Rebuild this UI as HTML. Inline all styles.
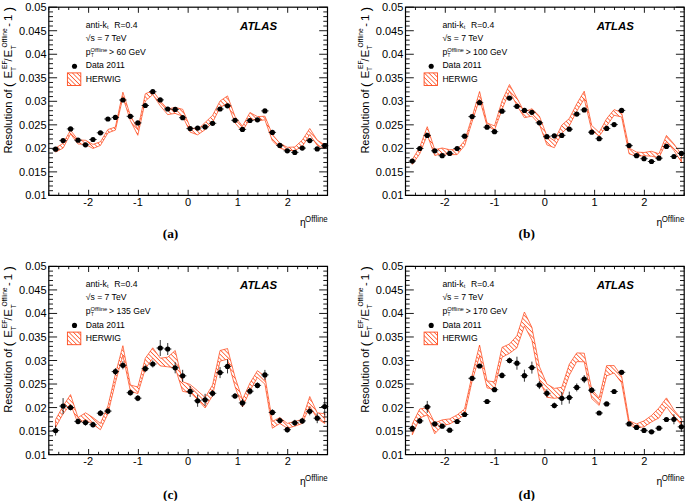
<!DOCTYPE html>
<html><head><meta charset="utf-8"><title>ATLAS resolution</title>
<style>html,body{margin:0;padding:0;background:#fff;}body{width:685px;height:501px;overflow:hidden;}svg{display:block;}text{font-family:"Liberation Sans",sans-serif;fill:#000;}.cap{font-family:"Liberation Serif",serif;font-weight:bold;font-size:13.4px;}.tl{font-size:11px;}.lg{font-size:8.65px;}.yt{font-size:11px;}.ss{font-size:6.7px;}</style>
</head><body>
<svg width="685" height="501" viewBox="0 0 685 501">
<defs>
<pattern id="h" patternUnits="userSpaceOnUse" width="3.15" height="3.15" patternTransform="rotate(45)"><rect x="0" y="0" width="3.15" height="0.72" fill="#ff4a1c"/></pattern>
</defs>
<rect x="0" y="0" width="685" height="501" fill="#fff"/>
<g>
<polygon points="55.6,148.1 63.08,143.3 70.55,130.3 78.03,139.9 85.5,140.3 92.97,144.4 100.45,141.8 107.92,129.5 115.4,127.1 122.88,92.2 130.35,115.4 137.82,129.3 145.3,93.8 152.78,90.6 160.25,101 167.72,109 175.2,107.4 182.67,109.3 190.15,127.3 197.62,129.7 205.1,122.5 212.57,115.4 220.05,101 227.52,95.9 235,116.5 242.47,126.2 249.95,112.5 257.43,116.6 264.9,116.2 272.38,134.5 279.85,143.3 287.32,147.3 294.8,147 302.27,140.1 309.75,128.5 317.23,140.1 324.7,144.9 324.7,148.6 317.23,145.4 309.75,134.5 302.27,146.5 294.8,150.5 287.32,150.5 279.85,148.1 272.38,140.9 264.9,119.8 257.43,120.9 249.95,118.2 242.47,131.3 235,122.9 227.52,103.4 220.05,107.4 212.57,122.5 205.1,129.7 197.62,134.8 190.15,132.1 182.67,116.2 175.2,113.4 167.72,114.6 160.25,105.8 152.78,94.6 145.3,101 137.82,135.3 130.35,120.5 122.88,97.3 115.4,130.1 107.92,132.9 100.45,145.4 92.97,148.5 85.5,144.3 78.03,144 70.55,133.9 63.08,148.1 55.6,152.1" fill="url(#h)" stroke="#ff4a1c" stroke-width="0.75" stroke-linejoin="miter"/>
<path d="M51.9 149.2H59.3M59.38 140.6H66.78M66.85 128.9H74.25M74.33 140.2H81.73M81.8 144.8H89.2M89.27 139.5H96.67M96.75 132.8H104.15M104.22 119H111.62M111.7 117.4H119.1M119.17 100H126.58M126.65 116.3H134.05M134.12 122.9H141.52M141.6 105.5H149M149.08 91.7H156.47M156.55 99.9H163.95M164.03 109H171.42M171.5 109.4H178.9M178.97 117.7H186.37M186.45 128.6H193.85M193.93 128.1H201.32M201.4 126.9H208.8M208.88 123.3H216.27M216.35 109H223.75M223.82 105.8H231.22M231.3 120.3H238.7M238.78 129.4H246.17M246.25 120.5H253.65M253.73 119.8H261.12M261.2 110.9H268.6M268.68 132.4H276.07M276.15 145.4H283.55M283.62 150.8H291.02M291.1 152.4H298.5M298.57 148.1H305.97M306.05 140.6H313.45M313.53 148.9H320.93M321 145.7H328.4" stroke="#000" stroke-width="0.8" fill="none"/>
<circle cx="55.6" cy="149.2" r="2.6" fill="#000"/>
<circle cx="63.08" cy="140.6" r="2.6" fill="#000"/>
<circle cx="70.55" cy="128.9" r="2.6" fill="#000"/>
<circle cx="78.03" cy="140.2" r="2.6" fill="#000"/>
<circle cx="85.5" cy="144.8" r="2.6" fill="#000"/>
<circle cx="92.97" cy="139.5" r="2.6" fill="#000"/>
<circle cx="100.45" cy="132.8" r="2.6" fill="#000"/>
<circle cx="107.92" cy="119" r="2.6" fill="#000"/>
<circle cx="115.4" cy="117.4" r="2.6" fill="#000"/>
<circle cx="122.88" cy="100" r="2.6" fill="#000"/>
<circle cx="130.35" cy="116.3" r="2.6" fill="#000"/>
<circle cx="137.82" cy="122.9" r="2.6" fill="#000"/>
<circle cx="145.3" cy="105.5" r="2.6" fill="#000"/>
<circle cx="152.78" cy="91.7" r="2.6" fill="#000"/>
<circle cx="160.25" cy="99.9" r="2.6" fill="#000"/>
<circle cx="167.72" cy="109" r="2.6" fill="#000"/>
<circle cx="175.2" cy="109.4" r="2.6" fill="#000"/>
<circle cx="182.67" cy="117.7" r="2.6" fill="#000"/>
<circle cx="190.15" cy="128.6" r="2.6" fill="#000"/>
<circle cx="197.62" cy="128.1" r="2.6" fill="#000"/>
<circle cx="205.1" cy="126.9" r="2.6" fill="#000"/>
<circle cx="212.57" cy="123.3" r="2.6" fill="#000"/>
<circle cx="220.05" cy="109" r="2.6" fill="#000"/>
<circle cx="227.52" cy="105.8" r="2.6" fill="#000"/>
<circle cx="235" cy="120.3" r="2.6" fill="#000"/>
<circle cx="242.47" cy="129.4" r="2.6" fill="#000"/>
<circle cx="249.95" cy="120.5" r="2.6" fill="#000"/>
<circle cx="257.43" cy="119.8" r="2.6" fill="#000"/>
<circle cx="264.9" cy="110.9" r="2.6" fill="#000"/>
<circle cx="272.38" cy="132.4" r="2.6" fill="#000"/>
<circle cx="279.85" cy="145.4" r="2.6" fill="#000"/>
<circle cx="287.32" cy="150.8" r="2.6" fill="#000"/>
<circle cx="294.8" cy="152.4" r="2.6" fill="#000"/>
<circle cx="302.27" cy="148.1" r="2.6" fill="#000"/>
<circle cx="309.75" cy="140.6" r="2.6" fill="#000"/>
<circle cx="317.23" cy="148.9" r="2.6" fill="#000"/>
<circle cx="324.7" cy="145.7" r="2.6" fill="#000"/>
<rect x="48.8" y="7.2" width="278.7" height="188.2" fill="none" stroke="#000" stroke-width="1.2"/>
<path d="M48.8 195.4h8.3M327.5 195.4h-8.3M48.8 190.69h4.2M327.5 190.69h-4.2M48.8 185.99h4.2M327.5 185.99h-4.2M48.8 181.28h4.2M327.5 181.28h-4.2M48.8 176.58h4.2M327.5 176.58h-4.2M48.8 171.88h8.3M327.5 171.88h-8.3M48.8 167.17h4.2M327.5 167.17h-4.2M48.8 162.47h4.2M327.5 162.47h-4.2M48.8 157.76h4.2M327.5 157.76h-4.2M48.8 153.06h4.2M327.5 153.06h-4.2M48.8 148.35h8.3M327.5 148.35h-8.3M48.8 143.65h4.2M327.5 143.65h-4.2M48.8 138.94h4.2M327.5 138.94h-4.2M48.8 134.24h4.2M327.5 134.24h-4.2M48.8 129.53h4.2M327.5 129.53h-4.2M48.8 124.83h8.3M327.5 124.83h-8.3M48.8 120.12h4.2M327.5 120.12h-4.2M48.8 115.42h4.2M327.5 115.42h-4.2M48.8 110.71h4.2M327.5 110.71h-4.2M48.8 106.01h4.2M327.5 106.01h-4.2M48.8 101.3h8.3M327.5 101.3h-8.3M48.8 96.59h4.2M327.5 96.59h-4.2M48.8 91.89h4.2M327.5 91.89h-4.2M48.8 87.19h4.2M327.5 87.19h-4.2M48.8 82.48h4.2M327.5 82.48h-4.2M48.8 77.78h8.3M327.5 77.78h-8.3M48.8 73.07h4.2M327.5 73.07h-4.2M48.8 68.37h4.2M327.5 68.37h-4.2M48.8 63.66h4.2M327.5 63.66h-4.2M48.8 58.96h4.2M327.5 58.96h-4.2M48.8 54.25h8.3M327.5 54.25h-8.3M48.8 49.55h4.2M327.5 49.55h-4.2M48.8 44.84h4.2M327.5 44.84h-4.2M48.8 40.13h4.2M327.5 40.13h-4.2M48.8 35.43h4.2M327.5 35.43h-4.2M48.8 30.72h8.3M327.5 30.72h-8.3M48.8 26.02h4.2M327.5 26.02h-4.2M48.8 21.31h4.2M327.5 21.31h-4.2M48.8 16.61h4.2M327.5 16.61h-4.2M48.8 11.91h4.2M327.5 11.91h-4.2M48.8 7.2h8.3M327.5 7.2h-8.3M48.8 195.4v-2.8M48.8 7.2v2.8M58.75 195.4v-2.8M58.75 7.2v2.8M68.71 195.4v-2.8M68.71 7.2v2.8M78.66 195.4v-2.8M78.66 7.2v2.8M88.61 195.4v-5.6M88.61 7.2v5.6M98.57 195.4v-2.8M98.57 7.2v2.8M108.52 195.4v-2.8M108.52 7.2v2.8M118.47 195.4v-2.8M118.47 7.2v2.8M128.43 195.4v-2.8M128.43 7.2v2.8M138.38 195.4v-5.6M138.38 7.2v5.6M148.34 195.4v-2.8M148.34 7.2v2.8M158.29 195.4v-2.8M158.29 7.2v2.8M168.24 195.4v-2.8M168.24 7.2v2.8M178.2 195.4v-2.8M178.2 7.2v2.8M188.15 195.4v-5.6M188.15 7.2v5.6M198.1 195.4v-2.8M198.1 7.2v2.8M208.06 195.4v-2.8M208.06 7.2v2.8M218.01 195.4v-2.8M218.01 7.2v2.8M227.96 195.4v-2.8M227.96 7.2v2.8M237.92 195.4v-5.6M237.92 7.2v5.6M247.87 195.4v-2.8M247.87 7.2v2.8M257.83 195.4v-2.8M257.83 7.2v2.8M267.78 195.4v-2.8M267.78 7.2v2.8M277.73 195.4v-2.8M277.73 7.2v2.8M287.69 195.4v-5.6M287.69 7.2v5.6M297.64 195.4v-2.8M297.64 7.2v2.8M307.59 195.4v-2.8M307.59 7.2v2.8M317.55 195.4v-2.8M317.55 7.2v2.8M327.5 195.4v-2.8M327.5 7.2v2.8" stroke="#000" stroke-width="0.9" fill="none"/>
<text class="tl" x="46.6" y="199.4" text-anchor="end">0.01</text>
<text class="tl" x="46.6" y="175.88" text-anchor="end">0.015</text>
<text class="tl" x="46.6" y="152.35" text-anchor="end">0.02</text>
<text class="tl" x="46.6" y="128.82" text-anchor="end">0.025</text>
<text class="tl" x="46.6" y="105.3" text-anchor="end">0.03</text>
<text class="tl" x="46.6" y="81.78" text-anchor="end">0.035</text>
<text class="tl" x="46.6" y="58.25" text-anchor="end">0.04</text>
<text class="tl" x="46.6" y="34.72" text-anchor="end">0.045</text>
<text class="tl" x="46.6" y="11.2" text-anchor="end">0.05</text>
<text class="tl" x="88.11" y="206.1" text-anchor="middle">-2</text>
<text class="tl" x="137.88" y="206.1" text-anchor="middle">-1</text>
<text class="tl" x="188.15" y="206.1" text-anchor="middle">0</text>
<text class="tl" x="237.92" y="206.1" text-anchor="middle">1</text>
<text class="tl" x="287.69" y="206.1" text-anchor="middle">2</text>
<text x="0" y="0" style="font-size:11.2px" transform="translate(299.9 226.1) scale(0.92 1)">η</text>
<text x="0" y="0" style="font-size:9.4px" transform="translate(305 221.9) scale(0.84 1)">Offline</text>
<g transform="translate(12.2 153.6) rotate(-90)">
<text class="yt" x="0" y="0">Resolution of</text>
<text x="66.6" y="0.8" style="font-size:13px">(</text>
<text class="yt" x="75.0" y="0" style="font-size:11.5px">E</text>
<text class="ss" x="82.6" y="3.4">T</text>
<text class="ss" x="84.6" y="-5.7">EF</text>
<text class="yt" x="92.2" y="0">/</text>
<text class="yt" x="96.0" y="0" style="font-size:11.5px">E</text>
<text class="ss" x="104.2" y="3.4">T</text>
<text class="ss" x="106.2" y="-5.7">Offline</text>
<text class="yt" x="126.9" y="0">-</text>
<text class="yt" x="132.6" y="0" style="font-size:11.5px">1</text>
<text x="142.4" y="0.8" style="font-size:13px">)</text>
</g>
<text class="lg" x="85.7" y="27.7">anti-k</text>
<text x="107.1" y="29.2" style="font-size:5.5px">t</text>
<text class="lg" x="114.3" y="27.7">R=0.4</text>
<text class="lg" x="85.7" y="41">√s = 7 TeV</text>
<text class="lg" x="85.7" y="54.6">p</text>
<text x="90.9" y="57.2" style="font-size:4.6px">T</text>
<text x="90.5" y="51.6" style="font-size:5.8px">Offline</text>
<text class="lg" x="109" y="54.6">&gt; 60 GeV</text>
<circle cx="74.5" cy="66.2" r="2.55" fill="#000"/>
<text class="lg" x="85.7" y="68.3">Data 2011</text>
<rect x="67.4" y="72.9" width="13.4" height="12.6" fill="url(#h)" stroke="#ff4a1c" stroke-width="0.9"/>
<text class="lg" x="85.7" y="81.8">HERWIG</text>
<text x="240" y="30" style="font-size:11.4px;font-weight:bold;font-style:italic">ATLAS</text>
<text class="cap" x="170.5" y="238.2" text-anchor="middle">(a)</text>
</g>
<g>
<polygon points="412.3,159.5 419.78,147.2 427.25,126.7 434.73,149.7 442.2,148 449.68,149.7 457.15,149.7 464.62,140.7 472.1,116.9 479.57,91.5 487.05,123 494.52,125.9 502,101 509.48,84.5 516.95,98.1 524.42,112 531.9,108.7 539.38,116.1 546.85,135.8 554.33,140.7 561.8,125.1 569.27,118.6 576.75,103.8 584.23,91.2 591.7,125.5 599.17,132.5 606.65,118.6 614.12,109.6 621.6,112.5 629.08,148 636.55,152.1 644.02,152.5 651.5,151.3 658.98,153.8 666.45,135.4 673.92,143.9 681.4,154.6 681.4,161.9 673.92,150.5 666.45,141.5 658.98,157.9 651.5,156.2 644.02,155.7 636.55,156.2 629.08,153.8 621.6,116.9 614.12,115.3 606.65,125.9 599.17,136.1 591.7,130.4 584.23,98.9 576.75,111.2 569.27,125.9 561.8,133.3 554.33,147.7 546.85,144.8 539.38,124.3 531.9,116.1 524.42,117.7 516.95,105.5 509.48,91.2 502,109.6 494.52,130 487.05,125.9 479.57,98.9 472.1,121.8 464.62,145.6 457.15,154.6 449.68,154.6 442.2,153.8 434.73,155.4 427.25,134.9 419.78,153.8 412.3,164.4" fill="url(#h)" stroke="#ff4a1c" stroke-width="0.75" stroke-linejoin="miter"/>
<path d="M408.6 161.1H416M416.08 148.5H423.48M423.55 135.4H430.95M431.03 150.8H438.43M438.5 155.7H445.9M445.98 153.4H453.38M453.45 148.5H460.85M460.93 136.2H468.32M468.4 116.6H475.8M475.88 102.7H483.27M483.35 127.2H490.75M490.82 131.7H498.22M498.3 111.2H505.7M505.78 98.1H513.18M513.25 106.3H520.65M520.72 110.4H528.12M528.2 112.3H535.6M535.67 122.8H543.08M543.15 136.7H550.55M550.62 135.8H558.03M558.1 135.4H565.5M565.57 129.2H572.98M573.05 114.1H580.45M580.52 109.9H587.93M588 132.2H595.4M595.47 138.7H602.88M602.95 128.4H610.35M610.42 124.6H617.83M617.9 110.4H625.3M625.38 145.6H632.78M632.85 155.7H640.25M640.32 158.7H647.73M647.8 161.5H655.2M655.27 158.2H662.68M662.75 146.4H670.15M670.22 156.5H677.62M677.7 153.4H685.1" stroke="#000" stroke-width="0.8" fill="none"/>
<circle cx="412.3" cy="161.1" r="2.6" fill="#000"/>
<circle cx="419.78" cy="148.5" r="2.6" fill="#000"/>
<circle cx="427.25" cy="135.4" r="2.6" fill="#000"/>
<circle cx="434.73" cy="150.8" r="2.6" fill="#000"/>
<circle cx="442.2" cy="155.7" r="2.6" fill="#000"/>
<circle cx="449.68" cy="153.4" r="2.6" fill="#000"/>
<circle cx="457.15" cy="148.5" r="2.6" fill="#000"/>
<circle cx="464.62" cy="136.2" r="2.6" fill="#000"/>
<circle cx="472.1" cy="116.6" r="2.6" fill="#000"/>
<circle cx="479.57" cy="102.7" r="2.6" fill="#000"/>
<circle cx="487.05" cy="127.2" r="2.6" fill="#000"/>
<circle cx="494.52" cy="131.7" r="2.6" fill="#000"/>
<circle cx="502" cy="111.2" r="2.6" fill="#000"/>
<circle cx="509.48" cy="98.1" r="2.6" fill="#000"/>
<circle cx="516.95" cy="106.3" r="2.6" fill="#000"/>
<circle cx="524.42" cy="110.4" r="2.6" fill="#000"/>
<circle cx="531.9" cy="112.3" r="2.6" fill="#000"/>
<circle cx="539.38" cy="122.8" r="2.6" fill="#000"/>
<circle cx="546.85" cy="136.7" r="2.6" fill="#000"/>
<circle cx="554.33" cy="135.8" r="2.6" fill="#000"/>
<circle cx="561.8" cy="135.4" r="2.6" fill="#000"/>
<circle cx="569.27" cy="129.2" r="2.6" fill="#000"/>
<circle cx="576.75" cy="114.1" r="2.6" fill="#000"/>
<circle cx="584.23" cy="109.9" r="2.6" fill="#000"/>
<circle cx="591.7" cy="132.2" r="2.6" fill="#000"/>
<circle cx="599.17" cy="138.7" r="2.6" fill="#000"/>
<circle cx="606.65" cy="128.4" r="2.6" fill="#000"/>
<circle cx="614.12" cy="124.6" r="2.6" fill="#000"/>
<circle cx="621.6" cy="110.4" r="2.6" fill="#000"/>
<circle cx="629.08" cy="145.6" r="2.6" fill="#000"/>
<circle cx="636.55" cy="155.7" r="2.6" fill="#000"/>
<circle cx="644.02" cy="158.7" r="2.6" fill="#000"/>
<circle cx="651.5" cy="161.5" r="2.6" fill="#000"/>
<circle cx="658.98" cy="158.2" r="2.6" fill="#000"/>
<circle cx="666.45" cy="146.4" r="2.6" fill="#000"/>
<circle cx="673.92" cy="156.5" r="2.6" fill="#000"/>
<circle cx="681.4" cy="153.4" r="2.6" fill="#000"/>
<rect x="405.5" y="7.2" width="278.7" height="188.2" fill="none" stroke="#000" stroke-width="1.2"/>
<path d="M405.5 195.4h8.3M684.2 195.4h-8.3M405.5 190.69h4.2M684.2 190.69h-4.2M405.5 185.99h4.2M684.2 185.99h-4.2M405.5 181.28h4.2M684.2 181.28h-4.2M405.5 176.58h4.2M684.2 176.58h-4.2M405.5 171.88h8.3M684.2 171.88h-8.3M405.5 167.17h4.2M684.2 167.17h-4.2M405.5 162.47h4.2M684.2 162.47h-4.2M405.5 157.76h4.2M684.2 157.76h-4.2M405.5 153.06h4.2M684.2 153.06h-4.2M405.5 148.35h8.3M684.2 148.35h-8.3M405.5 143.65h4.2M684.2 143.65h-4.2M405.5 138.94h4.2M684.2 138.94h-4.2M405.5 134.24h4.2M684.2 134.24h-4.2M405.5 129.53h4.2M684.2 129.53h-4.2M405.5 124.83h8.3M684.2 124.83h-8.3M405.5 120.12h4.2M684.2 120.12h-4.2M405.5 115.42h4.2M684.2 115.42h-4.2M405.5 110.71h4.2M684.2 110.71h-4.2M405.5 106.01h4.2M684.2 106.01h-4.2M405.5 101.3h8.3M684.2 101.3h-8.3M405.5 96.59h4.2M684.2 96.59h-4.2M405.5 91.89h4.2M684.2 91.89h-4.2M405.5 87.19h4.2M684.2 87.19h-4.2M405.5 82.48h4.2M684.2 82.48h-4.2M405.5 77.78h8.3M684.2 77.78h-8.3M405.5 73.07h4.2M684.2 73.07h-4.2M405.5 68.37h4.2M684.2 68.37h-4.2M405.5 63.66h4.2M684.2 63.66h-4.2M405.5 58.96h4.2M684.2 58.96h-4.2M405.5 54.25h8.3M684.2 54.25h-8.3M405.5 49.55h4.2M684.2 49.55h-4.2M405.5 44.84h4.2M684.2 44.84h-4.2M405.5 40.13h4.2M684.2 40.13h-4.2M405.5 35.43h4.2M684.2 35.43h-4.2M405.5 30.72h8.3M684.2 30.72h-8.3M405.5 26.02h4.2M684.2 26.02h-4.2M405.5 21.31h4.2M684.2 21.31h-4.2M405.5 16.61h4.2M684.2 16.61h-4.2M405.5 11.91h4.2M684.2 11.91h-4.2M405.5 7.2h8.3M684.2 7.2h-8.3M405.5 195.4v-2.8M405.5 7.2v2.8M415.45 195.4v-2.8M415.45 7.2v2.8M425.41 195.4v-2.8M425.41 7.2v2.8M435.36 195.4v-2.8M435.36 7.2v2.8M445.31 195.4v-5.6M445.31 7.2v5.6M455.27 195.4v-2.8M455.27 7.2v2.8M465.22 195.4v-2.8M465.22 7.2v2.8M475.18 195.4v-2.8M475.18 7.2v2.8M485.13 195.4v-2.8M485.13 7.2v2.8M495.08 195.4v-5.6M495.08 7.2v5.6M505.04 195.4v-2.8M505.04 7.2v2.8M514.99 195.4v-2.8M514.99 7.2v2.8M524.94 195.4v-2.8M524.94 7.2v2.8M534.9 195.4v-2.8M534.9 7.2v2.8M544.85 195.4v-5.6M544.85 7.2v5.6M554.8 195.4v-2.8M554.8 7.2v2.8M564.76 195.4v-2.8M564.76 7.2v2.8M574.71 195.4v-2.8M574.71 7.2v2.8M584.66 195.4v-2.8M584.66 7.2v2.8M594.62 195.4v-5.6M594.62 7.2v5.6M604.57 195.4v-2.8M604.57 7.2v2.8M614.53 195.4v-2.8M614.53 7.2v2.8M624.48 195.4v-2.8M624.48 7.2v2.8M634.43 195.4v-2.8M634.43 7.2v2.8M644.39 195.4v-5.6M644.39 7.2v5.6M654.34 195.4v-2.8M654.34 7.2v2.8M664.29 195.4v-2.8M664.29 7.2v2.8M674.25 195.4v-2.8M674.25 7.2v2.8M684.2 195.4v-2.8M684.2 7.2v2.8" stroke="#000" stroke-width="0.9" fill="none"/>
<text class="tl" x="403.3" y="199.4" text-anchor="end">0.01</text>
<text class="tl" x="403.3" y="175.88" text-anchor="end">0.015</text>
<text class="tl" x="403.3" y="152.35" text-anchor="end">0.02</text>
<text class="tl" x="403.3" y="128.82" text-anchor="end">0.025</text>
<text class="tl" x="403.3" y="105.3" text-anchor="end">0.03</text>
<text class="tl" x="403.3" y="81.78" text-anchor="end">0.035</text>
<text class="tl" x="403.3" y="58.25" text-anchor="end">0.04</text>
<text class="tl" x="403.3" y="34.72" text-anchor="end">0.045</text>
<text class="tl" x="403.3" y="11.2" text-anchor="end">0.05</text>
<text class="tl" x="444.81" y="206.1" text-anchor="middle">-2</text>
<text class="tl" x="494.58" y="206.1" text-anchor="middle">-1</text>
<text class="tl" x="544.85" y="206.1" text-anchor="middle">0</text>
<text class="tl" x="594.62" y="206.1" text-anchor="middle">1</text>
<text class="tl" x="644.39" y="206.1" text-anchor="middle">2</text>
<text x="0" y="0" style="font-size:11.2px" transform="translate(656.6 226.1) scale(0.92 1)">η</text>
<text x="0" y="0" style="font-size:9.4px" transform="translate(661.7 221.9) scale(0.84 1)">Offline</text>
<g transform="translate(368.9 153.6) rotate(-90)">
<text class="yt" x="0" y="0">Resolution of</text>
<text x="66.6" y="0.8" style="font-size:13px">(</text>
<text class="yt" x="75.0" y="0" style="font-size:11.5px">E</text>
<text class="ss" x="82.6" y="3.4">T</text>
<text class="ss" x="84.6" y="-5.7">EF</text>
<text class="yt" x="92.2" y="0">/</text>
<text class="yt" x="96.0" y="0" style="font-size:11.5px">E</text>
<text class="ss" x="104.2" y="3.4">T</text>
<text class="ss" x="106.2" y="-5.7">Offline</text>
<text class="yt" x="126.9" y="0">-</text>
<text class="yt" x="132.6" y="0" style="font-size:11.5px">1</text>
<text x="142.4" y="0.8" style="font-size:13px">)</text>
</g>
<text class="lg" x="442.4" y="27.7">anti-k</text>
<text x="463.8" y="29.2" style="font-size:5.5px">t</text>
<text class="lg" x="471" y="27.7">R=0.4</text>
<text class="lg" x="442.4" y="41">√s = 7 TeV</text>
<text class="lg" x="442.4" y="54.6">p</text>
<text x="447.6" y="57.2" style="font-size:4.6px">T</text>
<text x="447.2" y="51.6" style="font-size:5.8px">Offline</text>
<text class="lg" x="465.7" y="54.6">&gt; 100 GeV</text>
<circle cx="431.2" cy="66.2" r="2.55" fill="#000"/>
<text class="lg" x="442.4" y="68.3">Data 2011</text>
<rect x="424.1" y="72.9" width="13.4" height="12.6" fill="url(#h)" stroke="#ff4a1c" stroke-width="0.9"/>
<text class="lg" x="442.4" y="81.8">HERWIG</text>
<text x="596.7" y="30" style="font-size:11.4px;font-weight:bold;font-style:italic">ATLAS</text>
<text class="cap" x="526.7" y="238.2" text-anchor="middle">(b)</text>
</g>
<g>
<polygon points="55.6,419.5 63.08,406.1 70.55,394.6 78.03,417.6 85.5,412.8 92.97,417.6 100.45,423.4 107.92,406.1 115.4,374.1 122.88,345.7 130.35,385 137.82,387 145.3,358.2 152.78,347.8 160.25,358.2 167.72,357.2 175.2,350.5 182.67,381.8 190.15,384.5 197.62,390.8 205.1,397.5 212.57,385 220.05,350.5 227.52,348.6 235,377 242.47,399.5 249.95,383.1 257.43,370.7 264.9,376.4 272.38,421.4 279.85,417.6 287.32,423.4 294.8,421.4 302.27,419.5 309.75,396.5 317.23,412.8 324.7,413.8 324.7,423.4 317.23,418.6 309.75,406.1 302.27,423.4 294.8,426.2 287.32,428.2 279.85,423.4 272.38,428.2 264.9,384.1 257.43,377.4 249.95,390.8 242.47,407 235,386.5 227.52,359.2 220.05,361.1 212.57,395.6 205.1,408 197.62,399.4 190.15,392.7 182.67,391.4 175.2,367.8 167.72,366.8 160.25,365.9 152.78,358.2 145.3,368.7 137.82,393.7 130.35,390.8 122.88,355.3 115.4,382.5 107.92,413.8 100.45,429.7 92.97,424.3 85.5,419.5 78.03,423.4 70.55,404.2 63.08,413.8 55.6,427.2" fill="url(#h)" stroke="#ff4a1c" stroke-width="0.75" stroke-linejoin="miter"/>
<path d="M51.9 430.6H59.3M55.6 425.6V435.6M59.38 406.1H66.78M63.08 398.1V414.1M66.85 407.5H74.25M70.55 404.5V410.5M74.33 421.4H81.73M78.03 418.4V424.4M81.8 422.6H89.2M85.5 419.6V425.6M89.27 424.7H96.67M92.97 421.7V427.7M96.75 413.2H104.15M100.45 410.2V416.2M104.22 411.1H111.62M107.92 408.1V414.1M111.7 371.6H119.1M115.4 368.1V375.1M119.17 365.3H126.58M122.88 361.3V369.3M126.65 392.7H134.05M130.35 389.7V395.7M134.12 398.2H141.52M137.82 395.2V401.2M141.6 368.7H149M145.3 365.2V372.2M149.08 364H156.47M152.78 360.5V367.5M156.55 348H163.95M160.25 340V356M164.03 349H171.42M167.72 343V355M171.5 367.8H178.9M175.2 362.3V373.3M178.97 375.8H186.37M182.67 369.8V381.8M186.45 391.4H193.85M190.15 385.9V396.9M193.93 400.8H201.32M197.62 394.8V406.8M201.4 399.8H208.8M205.1 393.8V405.8M208.88 393.3H216.27M212.57 389.8V396.8M216.35 372.6H223.75M220.05 367.1V378.1M223.82 366.4H231.22M227.52 359.4V373.4M231.3 396H238.7M235 393V399M238.78 402.9H246.17M242.47 398.9V406.9M246.25 391.2H253.65M249.95 387.7V394.7M253.73 385.4H261.12M257.43 382.4V388.4M261.2 374.9H268.6M264.9 369.9V379.9M268.68 412.4H276.07M272.38 409.4V415.4M276.15 420.5H283.55M279.85 417.5V423.5M283.62 429.7H291.02M287.32 426.7V432.7M291.1 422.8H298.5M294.8 419.8V425.8M298.57 420.9H305.97M302.27 417.9V423.9M306.05 411.3H313.45M309.75 407.3V415.3M313.53 418.2H320.93M317.23 413.2V423.2M321 406.5H328.4M324.7 397.5V415.5" stroke="#000" stroke-width="0.8" fill="none"/>
<circle cx="55.6" cy="430.6" r="2.6" fill="#000"/>
<circle cx="63.08" cy="406.1" r="2.6" fill="#000"/>
<circle cx="70.55" cy="407.5" r="2.6" fill="#000"/>
<circle cx="78.03" cy="421.4" r="2.6" fill="#000"/>
<circle cx="85.5" cy="422.6" r="2.6" fill="#000"/>
<circle cx="92.97" cy="424.7" r="2.6" fill="#000"/>
<circle cx="100.45" cy="413.2" r="2.6" fill="#000"/>
<circle cx="107.92" cy="411.1" r="2.6" fill="#000"/>
<circle cx="115.4" cy="371.6" r="2.6" fill="#000"/>
<circle cx="122.88" cy="365.3" r="2.6" fill="#000"/>
<circle cx="130.35" cy="392.7" r="2.6" fill="#000"/>
<circle cx="137.82" cy="398.2" r="2.6" fill="#000"/>
<circle cx="145.3" cy="368.7" r="2.6" fill="#000"/>
<circle cx="152.78" cy="364" r="2.6" fill="#000"/>
<circle cx="160.25" cy="348" r="2.6" fill="#000"/>
<circle cx="167.72" cy="349" r="2.6" fill="#000"/>
<circle cx="175.2" cy="367.8" r="2.6" fill="#000"/>
<circle cx="182.67" cy="375.8" r="2.6" fill="#000"/>
<circle cx="190.15" cy="391.4" r="2.6" fill="#000"/>
<circle cx="197.62" cy="400.8" r="2.6" fill="#000"/>
<circle cx="205.1" cy="399.8" r="2.6" fill="#000"/>
<circle cx="212.57" cy="393.3" r="2.6" fill="#000"/>
<circle cx="220.05" cy="372.6" r="2.6" fill="#000"/>
<circle cx="227.52" cy="366.4" r="2.6" fill="#000"/>
<circle cx="235" cy="396" r="2.6" fill="#000"/>
<circle cx="242.47" cy="402.9" r="2.6" fill="#000"/>
<circle cx="249.95" cy="391.2" r="2.6" fill="#000"/>
<circle cx="257.43" cy="385.4" r="2.6" fill="#000"/>
<circle cx="264.9" cy="374.9" r="2.6" fill="#000"/>
<circle cx="272.38" cy="412.4" r="2.6" fill="#000"/>
<circle cx="279.85" cy="420.5" r="2.6" fill="#000"/>
<circle cx="287.32" cy="429.7" r="2.6" fill="#000"/>
<circle cx="294.8" cy="422.8" r="2.6" fill="#000"/>
<circle cx="302.27" cy="420.9" r="2.6" fill="#000"/>
<circle cx="309.75" cy="411.3" r="2.6" fill="#000"/>
<circle cx="317.23" cy="418.2" r="2.6" fill="#000"/>
<circle cx="324.7" cy="406.5" r="2.6" fill="#000"/>
<rect x="48.8" y="266.4" width="278.7" height="188.2" fill="none" stroke="#000" stroke-width="1.2"/>
<path d="M48.8 454.6h8.3M327.5 454.6h-8.3M48.8 449.9h4.2M327.5 449.9h-4.2M48.8 445.19h4.2M327.5 445.19h-4.2M48.8 440.49h4.2M327.5 440.49h-4.2M48.8 435.78h4.2M327.5 435.78h-4.2M48.8 431.08h8.3M327.5 431.08h-8.3M48.8 426.37h4.2M327.5 426.37h-4.2M48.8 421.67h4.2M327.5 421.67h-4.2M48.8 416.96h4.2M327.5 416.96h-4.2M48.8 412.25h4.2M327.5 412.25h-4.2M48.8 407.55h8.3M327.5 407.55h-8.3M48.8 402.85h4.2M327.5 402.85h-4.2M48.8 398.14h4.2M327.5 398.14h-4.2M48.8 393.44h4.2M327.5 393.44h-4.2M48.8 388.73h4.2M327.5 388.73h-4.2M48.8 384.03h8.3M327.5 384.03h-8.3M48.8 379.32h4.2M327.5 379.32h-4.2M48.8 374.62h4.2M327.5 374.62h-4.2M48.8 369.91h4.2M327.5 369.91h-4.2M48.8 365.21h4.2M327.5 365.21h-4.2M48.8 360.5h8.3M327.5 360.5h-8.3M48.8 355.8h4.2M327.5 355.8h-4.2M48.8 351.09h4.2M327.5 351.09h-4.2M48.8 346.38h4.2M327.5 346.38h-4.2M48.8 341.68h4.2M327.5 341.68h-4.2M48.8 336.98h8.3M327.5 336.98h-8.3M48.8 332.27h4.2M327.5 332.27h-4.2M48.8 327.57h4.2M327.5 327.57h-4.2M48.8 322.86h4.2M327.5 322.86h-4.2M48.8 318.16h4.2M327.5 318.16h-4.2M48.8 313.45h8.3M327.5 313.45h-8.3M48.8 308.75h4.2M327.5 308.75h-4.2M48.8 304.04h4.2M327.5 304.04h-4.2M48.8 299.34h4.2M327.5 299.34h-4.2M48.8 294.63h4.2M327.5 294.63h-4.2M48.8 289.93h8.3M327.5 289.93h-8.3M48.8 285.22h4.2M327.5 285.22h-4.2M48.8 280.51h4.2M327.5 280.51h-4.2M48.8 275.81h4.2M327.5 275.81h-4.2M48.8 271.11h4.2M327.5 271.11h-4.2M48.8 266.4h8.3M327.5 266.4h-8.3M48.8 454.6v-2.8M48.8 266.4v2.8M58.75 454.6v-2.8M58.75 266.4v2.8M68.71 454.6v-2.8M68.71 266.4v2.8M78.66 454.6v-2.8M78.66 266.4v2.8M88.61 454.6v-5.6M88.61 266.4v5.6M98.57 454.6v-2.8M98.57 266.4v2.8M108.52 454.6v-2.8M108.52 266.4v2.8M118.47 454.6v-2.8M118.47 266.4v2.8M128.43 454.6v-2.8M128.43 266.4v2.8M138.38 454.6v-5.6M138.38 266.4v5.6M148.34 454.6v-2.8M148.34 266.4v2.8M158.29 454.6v-2.8M158.29 266.4v2.8M168.24 454.6v-2.8M168.24 266.4v2.8M178.2 454.6v-2.8M178.2 266.4v2.8M188.15 454.6v-5.6M188.15 266.4v5.6M198.1 454.6v-2.8M198.1 266.4v2.8M208.06 454.6v-2.8M208.06 266.4v2.8M218.01 454.6v-2.8M218.01 266.4v2.8M227.96 454.6v-2.8M227.96 266.4v2.8M237.92 454.6v-5.6M237.92 266.4v5.6M247.87 454.6v-2.8M247.87 266.4v2.8M257.83 454.6v-2.8M257.83 266.4v2.8M267.78 454.6v-2.8M267.78 266.4v2.8M277.73 454.6v-2.8M277.73 266.4v2.8M287.69 454.6v-5.6M287.69 266.4v5.6M297.64 454.6v-2.8M297.64 266.4v2.8M307.59 454.6v-2.8M307.59 266.4v2.8M317.55 454.6v-2.8M317.55 266.4v2.8M327.5 454.6v-2.8M327.5 266.4v2.8" stroke="#000" stroke-width="0.9" fill="none"/>
<text class="tl" x="46.6" y="458.6" text-anchor="end">0.01</text>
<text class="tl" x="46.6" y="435.08" text-anchor="end">0.015</text>
<text class="tl" x="46.6" y="411.55" text-anchor="end">0.02</text>
<text class="tl" x="46.6" y="388.03" text-anchor="end">0.025</text>
<text class="tl" x="46.6" y="364.5" text-anchor="end">0.03</text>
<text class="tl" x="46.6" y="340.98" text-anchor="end">0.035</text>
<text class="tl" x="46.6" y="317.45" text-anchor="end">0.04</text>
<text class="tl" x="46.6" y="293.93" text-anchor="end">0.045</text>
<text class="tl" x="46.6" y="270.4" text-anchor="end">0.05</text>
<text class="tl" x="88.11" y="465.3" text-anchor="middle">-2</text>
<text class="tl" x="137.88" y="465.3" text-anchor="middle">-1</text>
<text class="tl" x="188.15" y="465.3" text-anchor="middle">0</text>
<text class="tl" x="237.92" y="465.3" text-anchor="middle">1</text>
<text class="tl" x="287.69" y="465.3" text-anchor="middle">2</text>
<text x="0" y="0" style="font-size:11.2px" transform="translate(299.9 485.3) scale(0.92 1)">η</text>
<text x="0" y="0" style="font-size:9.4px" transform="translate(305 481.1) scale(0.84 1)">Offline</text>
<g transform="translate(12.2 412.8) rotate(-90)">
<text class="yt" x="0" y="0">Resolution of</text>
<text x="66.6" y="0.8" style="font-size:13px">(</text>
<text class="yt" x="75.0" y="0" style="font-size:11.5px">E</text>
<text class="ss" x="82.6" y="3.4">T</text>
<text class="ss" x="84.6" y="-5.7">EF</text>
<text class="yt" x="92.2" y="0">/</text>
<text class="yt" x="96.0" y="0" style="font-size:11.5px">E</text>
<text class="ss" x="104.2" y="3.4">T</text>
<text class="ss" x="106.2" y="-5.7">Offline</text>
<text class="yt" x="126.9" y="0">-</text>
<text class="yt" x="132.6" y="0" style="font-size:11.5px">1</text>
<text x="142.4" y="0.8" style="font-size:13px">)</text>
</g>
<text class="lg" x="85.7" y="286.9">anti-k</text>
<text x="107.1" y="288.4" style="font-size:5.5px">t</text>
<text class="lg" x="114.3" y="286.9">R=0.4</text>
<text class="lg" x="85.7" y="300.2">√s = 7 TeV</text>
<text class="lg" x="85.7" y="313.8">p</text>
<text x="90.9" y="316.4" style="font-size:4.6px">T</text>
<text x="90.5" y="310.8" style="font-size:5.8px">Offline</text>
<text class="lg" x="109" y="313.8">&gt; 135 GeV</text>
<circle cx="74.5" cy="325.4" r="2.55" fill="#000"/>
<text class="lg" x="85.7" y="327.5">Data 2011</text>
<rect x="67.4" y="332.1" width="13.4" height="12.6" fill="url(#h)" stroke="#ff4a1c" stroke-width="0.9"/>
<text class="lg" x="85.7" y="341">HERWIG</text>
<text x="240" y="289.2" style="font-size:11.4px;font-weight:bold;font-style:italic">ATLAS</text>
<text class="cap" x="170.4" y="498.6" text-anchor="middle">(c)</text>
</g>
<g>
<polygon points="412.3,423.9 419.78,408.9 427.25,407.9 434.73,422.9 442.2,419.9 449.68,418.9 457.15,414.9 464.62,408.9 472.1,375.3 479.57,345 487.05,380.9 494.52,381.8 502,347.4 509.48,344 516.95,335.7 524.42,312 531.9,327.3 539.38,366.5 546.85,384 554.33,388.4 561.8,387.3 569.27,364.3 576.75,352.9 584.23,353.2 591.7,389.2 599.17,398 606.65,365.6 614.12,365.6 621.6,376 629.08,420.9 636.55,423.9 644.02,420.9 651.5,415.5 658.98,407.9 666.45,397.9 673.92,409.9 681.4,418.9 681.4,424.8 673.92,416.9 666.45,406.9 658.98,417.9 651.5,421.9 644.02,426.8 636.55,427.8 629.08,424.8 621.6,382.9 614.12,372.9 606.65,375.9 599.17,405.4 591.7,398.6 584.23,361.8 576.75,361.6 569.27,375.3 561.8,397.2 554.33,398.3 546.85,397.2 539.38,379.6 531.9,340.1 524.42,325.9 516.95,347.8 509.48,353.3 502,357.3 494.52,389.2 487.05,387.9 479.57,356 472.1,381 464.62,414.9 457.15,419.9 449.68,423.9 442.2,425.8 434.73,433.8 427.25,414.9 419.78,417.9 412.3,434.8" fill="url(#h)" stroke="#ff4a1c" stroke-width="0.75" stroke-linejoin="miter"/>
<path d="M408.6 428.4H416M412.3 425.4V431.4M416.08 420.9H423.48M419.78 417.9V423.9M423.55 406.9H430.95M427.25 400.9V412.9M431.03 423.9H438.43M438.5 426.2H445.9M445.98 430.2H453.38M453.45 421.5H460.85M460.93 414.5H468.32M468.4 378.3H475.8M475.88 366H483.27M483.35 401.5H490.75M490.82 389.7H498.22M498.3 375.4H505.7M502 372.4V378.4M505.78 360.5H513.18M509.48 357.5V363.5M513.25 363.2H520.65M516.95 356.7V369.7M520.72 375.7H528.12M524.42 369.7V381.7M528.2 367.6H535.6M531.9 361.6V373.6M535.67 385.1H543.08M539.38 381.1V389.1M543.15 393.3H550.55M546.85 389.3V397.3M550.62 405.5H558.03M554.33 402.5V408.5M558.1 398.3H565.5M561.8 391.8V404.8M565.57 397.6H572.98M569.27 391.6V403.6M573.05 387.4H580.45M576.75 383.4V391.4M580.52 379.1H587.93M584.23 375.1V383.1M588 390.2H595.4M591.7 387.2V393.2M595.47 413H602.88M602.95 403.9H610.35M610.42 391.5H617.83M617.9 372.3H625.3M625.38 423.9H632.78M632.85 427.4H640.25M640.32 430.4H647.73M647.8 431.8H655.2M655.27 428.2H662.68M662.75 419.5H670.15M670.22 419.3H677.62M673.92 414.3V424.3M677.7 426.8H685.1M681.4 421.8V431.8" stroke="#000" stroke-width="0.8" fill="none"/>
<circle cx="412.3" cy="428.4" r="2.6" fill="#000"/>
<circle cx="419.78" cy="420.9" r="2.6" fill="#000"/>
<circle cx="427.25" cy="406.9" r="2.6" fill="#000"/>
<circle cx="434.73" cy="423.9" r="2.6" fill="#000"/>
<circle cx="442.2" cy="426.2" r="2.6" fill="#000"/>
<circle cx="449.68" cy="430.2" r="2.6" fill="#000"/>
<circle cx="457.15" cy="421.5" r="2.6" fill="#000"/>
<circle cx="464.62" cy="414.5" r="2.6" fill="#000"/>
<circle cx="472.1" cy="378.3" r="2.6" fill="#000"/>
<circle cx="479.57" cy="366" r="2.6" fill="#000"/>
<circle cx="487.05" cy="401.5" r="2.6" fill="#000"/>
<circle cx="494.52" cy="389.7" r="2.6" fill="#000"/>
<circle cx="502" cy="375.4" r="2.6" fill="#000"/>
<circle cx="509.48" cy="360.5" r="2.6" fill="#000"/>
<circle cx="516.95" cy="363.2" r="2.6" fill="#000"/>
<circle cx="524.42" cy="375.7" r="2.6" fill="#000"/>
<circle cx="531.9" cy="367.6" r="2.6" fill="#000"/>
<circle cx="539.38" cy="385.1" r="2.6" fill="#000"/>
<circle cx="546.85" cy="393.3" r="2.6" fill="#000"/>
<circle cx="554.33" cy="405.5" r="2.6" fill="#000"/>
<circle cx="561.8" cy="398.3" r="2.6" fill="#000"/>
<circle cx="569.27" cy="397.6" r="2.6" fill="#000"/>
<circle cx="576.75" cy="387.4" r="2.6" fill="#000"/>
<circle cx="584.23" cy="379.1" r="2.6" fill="#000"/>
<circle cx="591.7" cy="390.2" r="2.6" fill="#000"/>
<circle cx="599.17" cy="413" r="2.6" fill="#000"/>
<circle cx="606.65" cy="403.9" r="2.6" fill="#000"/>
<circle cx="614.12" cy="391.5" r="2.6" fill="#000"/>
<circle cx="621.6" cy="372.3" r="2.6" fill="#000"/>
<circle cx="629.08" cy="423.9" r="2.6" fill="#000"/>
<circle cx="636.55" cy="427.4" r="2.6" fill="#000"/>
<circle cx="644.02" cy="430.4" r="2.6" fill="#000"/>
<circle cx="651.5" cy="431.8" r="2.6" fill="#000"/>
<circle cx="658.98" cy="428.2" r="2.6" fill="#000"/>
<circle cx="666.45" cy="419.5" r="2.6" fill="#000"/>
<circle cx="673.92" cy="419.3" r="2.6" fill="#000"/>
<circle cx="681.4" cy="426.8" r="2.6" fill="#000"/>
<rect x="405.5" y="266.4" width="278.7" height="188.2" fill="none" stroke="#000" stroke-width="1.2"/>
<path d="M405.5 454.6h8.3M684.2 454.6h-8.3M405.5 449.9h4.2M684.2 449.9h-4.2M405.5 445.19h4.2M684.2 445.19h-4.2M405.5 440.49h4.2M684.2 440.49h-4.2M405.5 435.78h4.2M684.2 435.78h-4.2M405.5 431.08h8.3M684.2 431.08h-8.3M405.5 426.37h4.2M684.2 426.37h-4.2M405.5 421.67h4.2M684.2 421.67h-4.2M405.5 416.96h4.2M684.2 416.96h-4.2M405.5 412.25h4.2M684.2 412.25h-4.2M405.5 407.55h8.3M684.2 407.55h-8.3M405.5 402.85h4.2M684.2 402.85h-4.2M405.5 398.14h4.2M684.2 398.14h-4.2M405.5 393.44h4.2M684.2 393.44h-4.2M405.5 388.73h4.2M684.2 388.73h-4.2M405.5 384.03h8.3M684.2 384.03h-8.3M405.5 379.32h4.2M684.2 379.32h-4.2M405.5 374.62h4.2M684.2 374.62h-4.2M405.5 369.91h4.2M684.2 369.91h-4.2M405.5 365.21h4.2M684.2 365.21h-4.2M405.5 360.5h8.3M684.2 360.5h-8.3M405.5 355.8h4.2M684.2 355.8h-4.2M405.5 351.09h4.2M684.2 351.09h-4.2M405.5 346.38h4.2M684.2 346.38h-4.2M405.5 341.68h4.2M684.2 341.68h-4.2M405.5 336.98h8.3M684.2 336.98h-8.3M405.5 332.27h4.2M684.2 332.27h-4.2M405.5 327.57h4.2M684.2 327.57h-4.2M405.5 322.86h4.2M684.2 322.86h-4.2M405.5 318.16h4.2M684.2 318.16h-4.2M405.5 313.45h8.3M684.2 313.45h-8.3M405.5 308.75h4.2M684.2 308.75h-4.2M405.5 304.04h4.2M684.2 304.04h-4.2M405.5 299.34h4.2M684.2 299.34h-4.2M405.5 294.63h4.2M684.2 294.63h-4.2M405.5 289.93h8.3M684.2 289.93h-8.3M405.5 285.22h4.2M684.2 285.22h-4.2M405.5 280.51h4.2M684.2 280.51h-4.2M405.5 275.81h4.2M684.2 275.81h-4.2M405.5 271.11h4.2M684.2 271.11h-4.2M405.5 266.4h8.3M684.2 266.4h-8.3M405.5 454.6v-2.8M405.5 266.4v2.8M415.45 454.6v-2.8M415.45 266.4v2.8M425.41 454.6v-2.8M425.41 266.4v2.8M435.36 454.6v-2.8M435.36 266.4v2.8M445.31 454.6v-5.6M445.31 266.4v5.6M455.27 454.6v-2.8M455.27 266.4v2.8M465.22 454.6v-2.8M465.22 266.4v2.8M475.18 454.6v-2.8M475.18 266.4v2.8M485.13 454.6v-2.8M485.13 266.4v2.8M495.08 454.6v-5.6M495.08 266.4v5.6M505.04 454.6v-2.8M505.04 266.4v2.8M514.99 454.6v-2.8M514.99 266.4v2.8M524.94 454.6v-2.8M524.94 266.4v2.8M534.9 454.6v-2.8M534.9 266.4v2.8M544.85 454.6v-5.6M544.85 266.4v5.6M554.8 454.6v-2.8M554.8 266.4v2.8M564.76 454.6v-2.8M564.76 266.4v2.8M574.71 454.6v-2.8M574.71 266.4v2.8M584.66 454.6v-2.8M584.66 266.4v2.8M594.62 454.6v-5.6M594.62 266.4v5.6M604.57 454.6v-2.8M604.57 266.4v2.8M614.53 454.6v-2.8M614.53 266.4v2.8M624.48 454.6v-2.8M624.48 266.4v2.8M634.43 454.6v-2.8M634.43 266.4v2.8M644.39 454.6v-5.6M644.39 266.4v5.6M654.34 454.6v-2.8M654.34 266.4v2.8M664.29 454.6v-2.8M664.29 266.4v2.8M674.25 454.6v-2.8M674.25 266.4v2.8M684.2 454.6v-2.8M684.2 266.4v2.8" stroke="#000" stroke-width="0.9" fill="none"/>
<text class="tl" x="403.3" y="458.6" text-anchor="end">0.01</text>
<text class="tl" x="403.3" y="435.08" text-anchor="end">0.015</text>
<text class="tl" x="403.3" y="411.55" text-anchor="end">0.02</text>
<text class="tl" x="403.3" y="388.03" text-anchor="end">0.025</text>
<text class="tl" x="403.3" y="364.5" text-anchor="end">0.03</text>
<text class="tl" x="403.3" y="340.98" text-anchor="end">0.035</text>
<text class="tl" x="403.3" y="317.45" text-anchor="end">0.04</text>
<text class="tl" x="403.3" y="293.93" text-anchor="end">0.045</text>
<text class="tl" x="403.3" y="270.4" text-anchor="end">0.05</text>
<text class="tl" x="444.81" y="465.3" text-anchor="middle">-2</text>
<text class="tl" x="494.58" y="465.3" text-anchor="middle">-1</text>
<text class="tl" x="544.85" y="465.3" text-anchor="middle">0</text>
<text class="tl" x="594.62" y="465.3" text-anchor="middle">1</text>
<text class="tl" x="644.39" y="465.3" text-anchor="middle">2</text>
<text x="0" y="0" style="font-size:11.2px" transform="translate(656.6 485.3) scale(0.92 1)">η</text>
<text x="0" y="0" style="font-size:9.4px" transform="translate(661.7 481.1) scale(0.84 1)">Offline</text>
<g transform="translate(368.9 412.8) rotate(-90)">
<text class="yt" x="0" y="0">Resolution of</text>
<text x="66.6" y="0.8" style="font-size:13px">(</text>
<text class="yt" x="75.0" y="0" style="font-size:11.5px">E</text>
<text class="ss" x="82.6" y="3.4">T</text>
<text class="ss" x="84.6" y="-5.7">EF</text>
<text class="yt" x="92.2" y="0">/</text>
<text class="yt" x="96.0" y="0" style="font-size:11.5px">E</text>
<text class="ss" x="104.2" y="3.4">T</text>
<text class="ss" x="106.2" y="-5.7">Offline</text>
<text class="yt" x="126.9" y="0">-</text>
<text class="yt" x="132.6" y="0" style="font-size:11.5px">1</text>
<text x="142.4" y="0.8" style="font-size:13px">)</text>
</g>
<text class="lg" x="442.4" y="286.9">anti-k</text>
<text x="463.8" y="288.4" style="font-size:5.5px">t</text>
<text class="lg" x="471" y="286.9">R=0.4</text>
<text class="lg" x="442.4" y="300.2">√s = 7 TeV</text>
<text class="lg" x="442.4" y="313.8">p</text>
<text x="447.6" y="316.4" style="font-size:4.6px">T</text>
<text x="447.2" y="310.8" style="font-size:5.8px">Offline</text>
<text class="lg" x="465.7" y="313.8">&gt; 170 GeV</text>
<circle cx="431.2" cy="325.4" r="2.55" fill="#000"/>
<text class="lg" x="442.4" y="327.5">Data 2011</text>
<rect x="424.1" y="332.1" width="13.4" height="12.6" fill="url(#h)" stroke="#ff4a1c" stroke-width="0.9"/>
<text class="lg" x="442.4" y="341">HERWIG</text>
<text x="596.7" y="289.2" style="font-size:11.4px;font-weight:bold;font-style:italic">ATLAS</text>
<text class="cap" x="526.7" y="498.6" text-anchor="middle">(d)</text>
</g>
</svg>
</body></html>
